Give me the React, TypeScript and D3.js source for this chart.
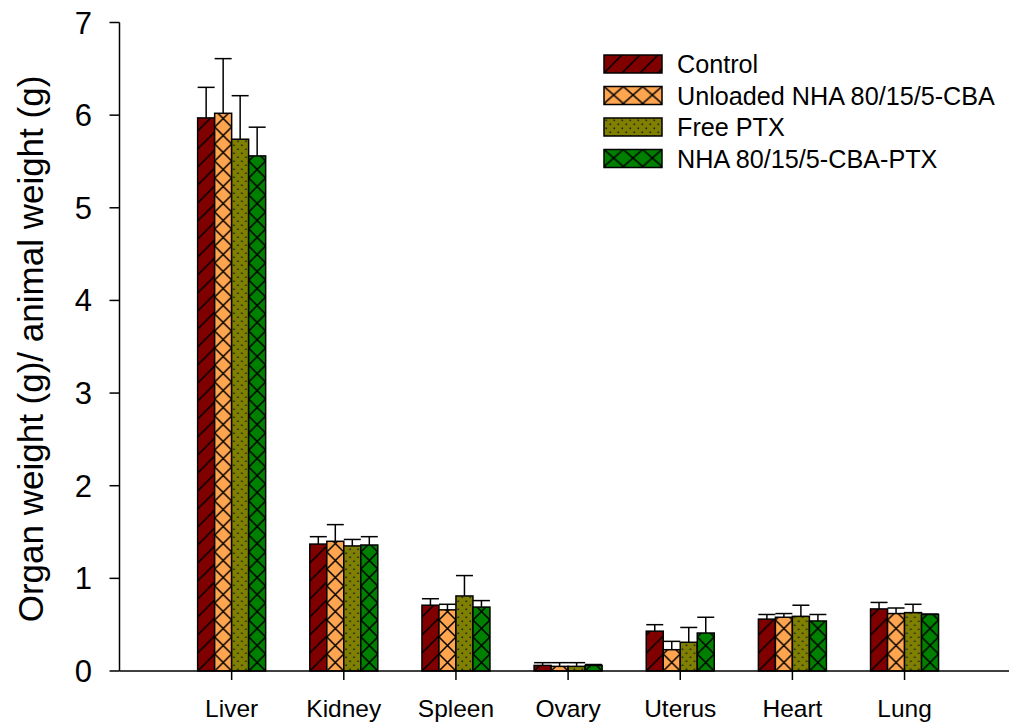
import React from "react";
import * as d3 from "d3";

const organs = ["Liver", "Kidney", "Spleen", "Ovary", "Uterus", "Heart", "Lung"];
const seriesNames = ["Control", "Unloaded NHA 80/15/5-CBA", "Free PTX", "NHA 80/15/5-CBA-PTX"];

const controlMean = [5.97, 1.37, 0.71, 0.06, 0.43, 0.56, 0.67];
const controlSd = [0.33, 0.08, 0.07, 0.03, 0.07, 0.05, 0.07];
const unloadedMean = [6.02, 1.40, 0.66, 0.05, 0.23, 0.58, 0.62];
const unloadedSd = [0.59, 0.18, 0.06, 0.04, 0.09, 0.04, 0.06];
const freePtxMean = [5.74, 1.35, 0.81, 0.05, 0.31, 0.59, 0.63];
const freePtxSd = [0.47, 0.07, 0.22, 0.04, 0.16, 0.12, 0.09];
const nhaPtxMean = [5.56, 1.36, 0.69, 0.06, 0.41, 0.54, 0.61];
const nhaPtxSd = [0.31, 0.09, 0.07, 0.01, 0.17, 0.07, 0.005];

const yTicks = [0, 1, 2, 3, 4, 5, 6, 7];

const means = [controlMean, unloadedMean, freePtxMean, nhaPtxMean];
const sds = [controlSd, unloadedSd, freePtxSd, nhaPtxSd];
const fills = ["#800000", "#FFA54F", "#808000", "#008000"];
const kinds = ["diag", "cross", "dots", "cross"];

const W = 1009;
const H = 726;
const FONT = "'Liberation Sans', Arial, Helvetica, sans-serif";

const x = d3.scaleLinear().domain([0, 8]).range([119.5, 1016.7]);
const y = d3.scaleLinear().domain([0, 7]).range([671, 22.5]);
const barW = 17;

function PatternDef({ id, kind, fill, px, py, cell }: { id: string; kind: string; fill: string; px: number; py: number; cell: number }) {
  if (kind === "diag") {
    const s = 18;
    return (
      <pattern id={id} patternUnits="userSpaceOnUse" x={px} y={py} width={s} height={s}>
        <rect width={s} height={s} fill={fill} />
        <path d={`M0,${s} L${s},0 M${-s / 2},${s / 2} L${s / 2},${-s / 2} M${s / 2},${s * 1.5} L${s * 1.5},${s / 2}`} stroke="#000" strokeWidth={1.5} />
      </pattern>
    );
  }
  if (kind === "cross") {
    const w = cell;
    const h = 17;
    return (
      <pattern id={id} patternUnits="userSpaceOnUse" x={px} y={py} width={w} height={h}>
        <rect width={w} height={h} fill={fill} />
        <path d={`M0,0 L${w},${h} M${w},0 L0,${h}`} stroke="#000" strokeWidth={1.5} />
      </pattern>
    );
  }
  const s = 8;
  return (
    <pattern id={id} patternUnits="userSpaceOnUse" x={px} y={py} width={s} height={s}>
      <rect width={s} height={s} fill={fill} />
      <rect x={1.5} y={1.5} width={1.6} height={1.6} fill="#222" />
      <rect x={5.5} y={5.5} width={1.6} height={1.6} fill="#222" />
    </pattern>
  );
}

export default function App() {
  const groupW = barW * 4;
  const bars = organs.flatMap((organ, i) =>
    means.map((m, s) => {
      const x0 = x(i + 1) - groupW / 2 + s * barW;
      return { organ, i, s, x0, v: m[i], e: sds[s][i] };
    })
  );

  const legendX = 604;
  const legendY0 = 55;
  const legendStep = 31.5;

  return (
    <div style={{ position: "absolute", left: 0, top: 0 }}>
      <svg width={W} height={H} style={{ display: "block", background: "#fff" }}>
        <defs>
          {bars.map((b) => (
            <PatternDef
              key={`p-${b.i}-${b.s}`}
              id={`p-${b.i}-${b.s}`}
              kind={kinds[b.s]}
              fill={fills[b.s]}
              px={b.x0}
              py={y(0)}
              cell={barW}
            />
          ))}
          {seriesNames.map((_, s) => (
            <PatternDef
              key={`lp-${s}`}
              id={`lp-${s}`}
              kind={kinds[s]}
              fill={fills[s]}
              px={legendX}
              py={legendY0 + s * legendStep}
              cell={58 / 3}
            />
          ))}
        </defs>

        {/* bars */}
        {bars.map((b) => (
          <rect
            key={`b-${b.i}-${b.s}`}
            x={b.x0}
            y={y(b.v)}
            width={barW}
            height={y(0) - y(b.v)}
            fill={`url(#p-${b.i}-${b.s})`}
            stroke="#000"
            strokeWidth={1.5}
          />
        ))}

        {/* upper error bars */}
        {bars.map((b) => {
          const cx = b.x0 + barW / 2;
          const top = y(b.v + b.e);
          return (
            <g key={`e-${b.i}-${b.s}`} stroke="#000" strokeWidth={1.5}>
              <line x1={cx} x2={cx} y1={y(b.v)} y2={top} />
              <line x1={cx - barW / 2} x2={cx + barW / 2} y1={top} y2={top} />
            </g>
          );
        })}

        {/* axes */}
        <g stroke="#000" strokeWidth={1.5} fill="none">
          <line x1={x(0)} x2={x(0)} y1={y(7)} y2={y(0)} />
          <line x1={x(0)} x2={W} y1={y(0)} y2={y(0)} />
          {yTicks.map((t) => (
            <line key={`yt-${t}`} x1={x(0) - 10} x2={x(0)} y1={y(t)} y2={y(t)} />
          ))}
          {organs.map((o, i) => (
            <line key={`xt-${o}`} x1={x(i + 1)} x2={x(i + 1)} y1={y(0)} y2={y(0) + 9} />
          ))}
        </g>

        <g fontFamily={FONT} fill="#000">
          {yTicks.map((t) => (
            <text key={`yl-${t}`} x={92} y={y(t) + 11} fontSize={31} textAnchor="end">
              {t}
            </text>
          ))}
          {organs.map((o, i) => (
            <text key={`xl-${o}`} x={x(i + 1)} y={716.5} fontSize={24.5} textAnchor="middle">
              {o}
            </text>
          ))}
          <text
            transform={`translate(43,349) rotate(-90)`}
            fontSize={35}
            textAnchor="middle"
          >
            Organ weight (g)/ animal weight (g)
          </text>
        </g>

        {/* legend */}
        <g fontFamily={FONT}>
          {seriesNames.map((name, s) => {
            const ly = legendY0 + s * legendStep;
            return (
              <g key={`lg-${s}`}>
                <rect x={legendX} y={ly} width={58} height={18} fill={`url(#lp-${s})`} stroke="#000" strokeWidth={1.5} />
                <text x={677} y={ly + 18} fontSize={25.2} fill="#000">
                  {name}
                </text>
              </g>
            );
          })}
        </g>
      </svg>
    </div>
  );
}
